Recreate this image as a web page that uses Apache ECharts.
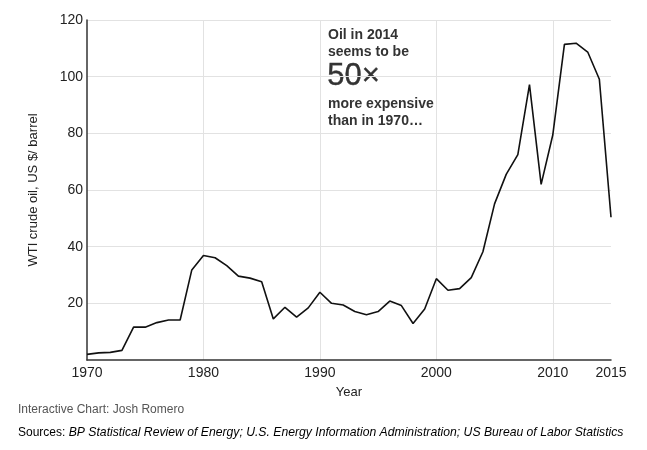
<!DOCTYPE html>
<html>
<head>
<meta charset="utf-8">
<script src="https://cdn.jsdelivr.net/npm/echarts@6/dist/echarts.min.js"></script>
<style>html,body{margin:0;padding:0;background:#fff;}#c{width:647px;height:450px;}</style>
</head>
<body>
<div id="c"></div>
<script>
var years = [1970,1971,1972,1973,1974,1975,1976,1977,1978,1979,1980,1981,1982,1983,1984,1985,1986,1987,1988,1989,1990,1991,1992,1993,1994,1995,1996,1997,1998,1999,2000,2001,2002,2003,2004,2005,2006,2007,2008,2009,2010,2011,2012,2013,2014,2015];
var prices = [2.0,2.5,2.7,3.4,11.6,11.6,13.2,14.1,14.1,31.8,36.9,36.1,33.3,29.6,28.9,27.6,14.5,18.6,15.1,18.4,23.9,20.0,19.4,17.1,16.0,17.1,20.8,19.2,12.9,18.0,28.7,24.6,25.2,29.1,38.2,55.1,65.5,72.5,97.2,62.0,79.4,111.4,111.8,108.7,99.1,50.4];
var xLabelYears = [1970,1980,1990,2000,2010,2015];
var annotationLines = ['Oil in 2014','seems to be','50×','more expensive','than in 1970…'];
var creditText = 'Interactive Chart: Josh Romero';
var sourcesLabel = 'Sources: ';
var sourcesText = 'BP Statistical Review of Energy; U.S. Energy Information Administration; US Bureau of Labor Statistics';

var data = years.map(function(y,i){return [y, prices[i]];});
var font = 'Liberation Sans, Arial, Helvetica, sans-serif';
var chart = echarts.init(document.getElementById('c'));
chart.setOption({
  animation: false,
  textStyle: {fontFamily: font},
  grid: {left: 87, right: 36, top: 20, bottom: 90},
  xAxis: {
    type: 'value', min: 1970, max: 2015, interval: 10,
    name: 'Year', nameLocation: 'middle', nameGap: 26,
    nameTextStyle: {fontSize: 13, color: '#222', fontFamily: font},
    axisLine: {show: true, lineStyle: {color: '#333', width: 1.5}},
    axisTick: {show: false},
    axisLabel: {fontSize: 14, color: '#222', margin: 6, fontFamily: font,
      formatter: function(v){ return xLabelYears.indexOf(v) >= 0 ? String(v) : ''; }},
    splitLine: {show: true, showMinLine: false, showMaxLine: false, lineStyle: {color: '#e2e2e2', width: 1}}
  },
  yAxis: {
    type: 'value', min: 0, max: 120, interval: 20,
    name: 'WTI crude oil, US $/ barrel', nameLocation: 'middle', nameGap: 47,
    nameTextStyle: {fontSize: 13, color: '#222', fontFamily: font},
    axisLine: {show: true, lineStyle: {color: '#333', width: 1.5}},
    axisTick: {show: false},
    axisLabel: {fontSize: 14, color: '#222', margin: 4, showMinLabel: false, fontFamily: font},
    splitLine: {show: true, showMinLine: false, lineStyle: {color: '#e2e2e2', width: 1}}
  },
  series: [{
    type: 'line', data: data, showSymbol: false, symbol: 'none',
    lineStyle: {color: '#111', width: 1.6}, z: 3
  }],
  graphic: [
    {type: 'text', left: 328, top: 28, style: {text: annotationLines[0], font: 'bold 14px ' + font, fill: '#333'}},
    {type: 'text', left: 328, top: 45, style: {text: annotationLines[1], font: 'bold 14px ' + font, fill: '#333'}},
    {type: 'text', left: 327, top: 61, style: {text: annotationLines[2], font: '31px ' + font, fill: '#333', stroke: '#333', lineWidth: 0.4}},
    {type: 'text', left: 328, top: 97, style: {text: annotationLines[3], font: 'bold 14px ' + font, fill: '#333'}},
    {type: 'text', left: 328, top: 114, style: {text: annotationLines[4], font: 'bold 14px ' + font, fill: '#333'}},
    {type: 'text', left: 18, top: 404, style: {text: creditText, font: '12px ' + font, fill: '#555'}},
    {type: 'text', left: 18, top: 427, style: {
      text: '{n|' + sourcesLabel + '}{i|' + sourcesText + '}',
      rich: {
        n: {fontSize: 12, fontFamily: font, color: '#555'},
        i: {fontSize: 12.2, fontFamily: font, fontStyle: 'italic', color: '#555'}
      }
    }}
  ]
});
</script>
</body>
</html>
